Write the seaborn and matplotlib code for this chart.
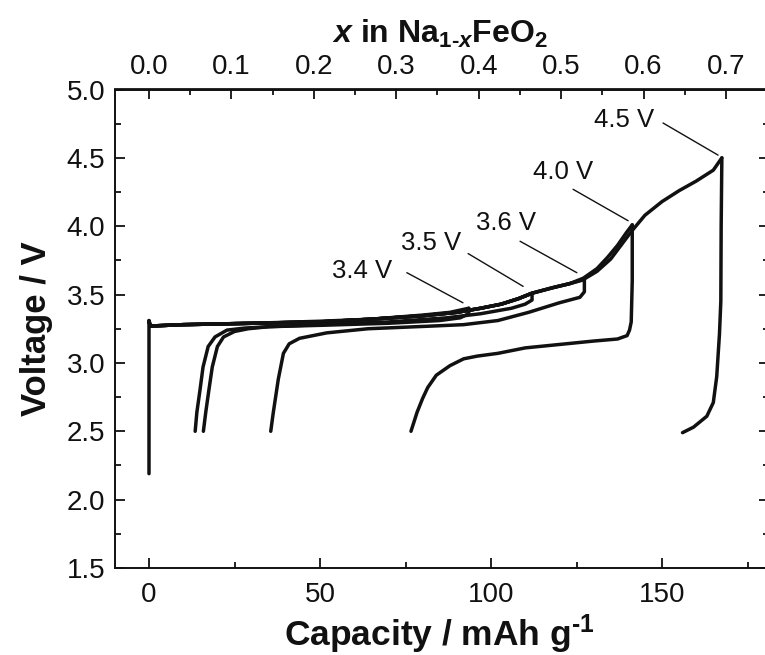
import numpy as np
import pandas as pd
import matplotlib
matplotlib.use("Agg")
import matplotlib.pyplot as plt
import seaborn as sns
from matplotlib.ticker import MultipleLocator, FixedLocator, NullFormatter

# ---------------- data ----------------
cutoffs = ["3.4 V", "3.5 V", "3.6 V", "4.0 V", "4.5 V"]

# charge branches (capacity / mAh g-1, voltage / V)
chg_cap_34 = [0, 0.4, 10, 30, 50, 65, 80, 88, 93.5]
chg_v_34 = [3.31, 3.27, 3.28, 3.29, 3.305, 3.32, 3.35, 3.37, 3.40]
chg_cap_35 = [0, 0.4, 10, 30, 50, 65, 80, 90, 97, 103, 108, 112]
chg_v_35 = [3.30, 3.27, 3.28, 3.29, 3.30, 3.32, 3.345, 3.37, 3.40, 3.43, 3.47, 3.51]
chg_cap_36 = [0, 0.4, 10, 30, 50, 65, 80, 90, 97, 103, 108, 112, 118, 123, 127.3]
chg_v_36 = [3.30, 3.27, 3.28, 3.29, 3.30, 3.32, 3.345, 3.37, 3.40, 3.43, 3.47, 3.51, 3.55, 3.58, 3.61]
chg_cap_40 = [0, 0.4, 10, 30, 50, 65, 80, 90, 97, 103, 108, 112, 118, 123, 127, 131, 134, 137, 139.5, 141.3]
chg_v_40 = [3.30, 3.27, 3.28, 3.29, 3.30, 3.32, 3.345, 3.37, 3.40, 3.43, 3.47, 3.51, 3.55, 3.58, 3.62, 3.69, 3.77, 3.86, 3.95, 4.01]
chg_cap_45 = [0, 0, 0.4, 10, 30, 50, 65, 80, 90, 97, 103, 108, 112, 118, 123, 127, 131, 135, 138, 141,
              145, 150, 155, 160, 165, 167.5]
chg_v_45 = [2.19, 3.31, 3.27, 3.28, 3.29, 3.30, 3.32, 3.345, 3.37, 3.40, 3.43, 3.47, 3.51, 3.55, 3.58,
            3.61, 3.67, 3.76, 3.86, 3.96, 4.08, 4.18, 4.26, 4.33, 4.41, 4.50]

# discharge branches
dis_cap_34 = [93.5, 93.5, 91, 85, 70, 50, 35, 28, 22.8, 19.3, 17.3, 15.8, 14.9, 14.0, 13.5]
dis_v_34 = [3.40, 3.36, 3.33, 3.31, 3.29, 3.275, 3.265, 3.255, 3.24, 3.19, 3.12, 2.97, 2.80, 2.64, 2.50]
dis_cap_35 = [112, 112, 110, 106, 97, 87, 70, 50, 35, 29, 25, 21.8, 20.0, 18.5, 17.5, 16.6, 15.9]
dis_v_35 = [3.51, 3.46, 3.43, 3.40, 3.36, 3.33, 3.30, 3.28, 3.265, 3.25, 3.23, 3.19, 3.12, 2.97, 2.80, 2.64, 2.50]
dis_cap_36 = [127.3, 127.3, 126, 120, 111, 102, 92, 83, 64, 52, 44, 41, 39.3, 37.8, 36.3, 35.6]
dis_v_36 = [3.61, 3.52, 3.48, 3.44, 3.37, 3.31, 3.28, 3.27, 3.25, 3.22, 3.18, 3.14, 3.07, 2.88, 2.63, 2.50]
dis_cap_40 = [141.3, 141.3, 141.0, 140.5, 139.8, 137, 130, 120, 110, 102, 96, 92, 88, 84, 81.5, 80, 78.4, 76.6]
dis_v_40 = [4.01, 3.60, 3.30, 3.24, 3.20, 3.175, 3.16, 3.135, 3.11, 3.07, 3.05, 3.03, 2.98, 2.91, 2.82, 2.74, 2.64, 2.50]
dis_cap_45 = [167.5, 167.3, 167.2, 166.8, 166.0, 165.0, 163.1, 159.2, 156.0]
dis_v_45 = [4.50, 4.00, 3.45, 3.21, 2.90, 2.71, 2.61, 2.53, 2.49]

# annotation labels: text centre, leader line start, leader line end (data units)
label_text_pos = [(62.3, 3.67), (82.5, 3.88), (104.4, 4.02), (121.1, 4.40), (138.9, 4.78)]
label_line_from = [(75.4, 3.66), (93.3, 3.80), (108.5, 3.89), (124.0, 4.27), (150.3, 4.755)]
label_line_to = [(91.8, 3.44), (109.4, 3.56), (125.1, 3.66), (140.1, 4.04), (166.4, 4.52)]

x_ticks = [0, 50, 100, 150]
y_ticks = [1.5, 2.0, 2.5, 3.0, 3.5, 4.0, 4.5, 5.0]
top_ticks = [0.0, 0.1, 0.2, 0.3, 0.4, 0.5, 0.6, 0.7]
theoretical_capacity = 241.0  # mAh g-1 per x in Na1-xFeO2

# ---------------- build a long table ----------------
branches = [
    ("3.4 V", "charge", chg_cap_34, chg_v_34), ("3.4 V", "discharge", dis_cap_34, dis_v_34),
    ("3.5 V", "charge", chg_cap_35, chg_v_35), ("3.5 V", "discharge", dis_cap_35, dis_v_35),
    ("3.6 V", "charge", chg_cap_36, chg_v_36), ("3.6 V", "discharge", dis_cap_36, dis_v_36),
    ("4.0 V", "charge", chg_cap_40, chg_v_40), ("4.0 V", "discharge", dis_cap_40, dis_v_40),
    ("4.5 V", "charge", chg_cap_45, chg_v_45), ("4.5 V", "discharge", dis_cap_45, dis_v_45),
]
rows = []
for cut, kind, caps, vs in branches:
    for i, (c, v) in enumerate(zip(caps, vs)):
        rows.append({"seg": f"{cut} {kind}", "order": i, "cap": c, "V": v})
df = pd.DataFrame(rows)

# ---------------- style ----------------
sns.set_theme(style="ticks")
plt.rcParams["font.family"] = ["Liberation Sans", "DejaVu Sans"]
plt.rcParams["mathtext.fontset"] = "custom"
plt.rcParams["mathtext.rm"] = "Liberation Sans:bold"
plt.rcParams["mathtext.bf"] = "Liberation Sans:bold"
plt.rcParams["mathtext.it"] = "Liberation Sans:italic:bold"

fig = plt.figure(figsize=(7.65, 6.55), dpi=100)
L, R, T, B = 114.8, 764.6, 89.5, 568.0
ax = fig.add_axes([L / 765, 1 - B / 655, (R - L) / 765, (B - T) / 655])

sns.lineplot(data=df, x="cap", y="V", units="seg", estimator=None, sort=False,
             color="#111111", linewidth=2.5, ax=ax, legend=False)

ax.set_xlim(-10, 180)
ax.set_ylim(1.5, 5.0)

# bottom / left ticks
ax.xaxis.set_major_locator(FixedLocator(x_ticks))
ax.xaxis.set_minor_locator(MultipleLocator(25))
ax.yaxis.set_major_locator(FixedLocator(y_ticks))
ax.yaxis.set_minor_locator(MultipleLocator(0.25))
ax.set_xticklabels([str(t) for t in x_ticks])
ax.set_yticklabels([f"{t:.1f}" for t in y_ticks])
ax.tick_params(which="major", direction="in", length=7.5, width=1.3, labelsize=20, pad=7,
               color="#111111", labelcolor="#111111", top=False, right=False)
ax.tick_params(axis="x", which="major", pad=10)
ax.tick_params(which="minor", direction="in", length=4.3, width=1.3, color="#111111",
               top=False, right=False)

for s in ["left", "bottom", "top"]:
    ax.spines[s].set_linewidth(1.4)
    ax.spines[s].set_color("#111111")
ax.spines["right"].set_visible(False)

# right side ticks (short)
axr = ax.secondary_yaxis("right")
axr.yaxis.set_major_locator(FixedLocator(y_ticks))
axr.yaxis.set_minor_locator(MultipleLocator(0.25))
axr.yaxis.set_major_formatter(NullFormatter())
axr.tick_params(which="major", direction="in", length=4, width=1.3, color="#111111")
axr.tick_params(which="minor", direction="in", length=1.5, width=1.3, color="#111111")
axr.spines["right"].set_visible(False)

# top axis: x in Na1-xFeO2
axt = ax.secondary_xaxis("top", functions=(lambda c: c / theoretical_capacity,
                                          lambda x: x * theoretical_capacity))
axt.xaxis.set_major_locator(FixedLocator(top_ticks))
axt.xaxis.set_minor_locator(MultipleLocator(0.05))
axt.set_xticklabels([f"{t:.1f}" for t in top_ticks])
axt.tick_params(which="major", direction="in", length=7.5, width=1.3, labelsize=20, pad=6.5,
                color="#111111", labelcolor="#111111")
axt.tick_params(which="minor", direction="in", length=4.3, width=1.3, color="#111111")
axt.spines["top"].set_linewidth(1.4)
axt.set_xlabel(r"$\mathit{x}$ in Na$_{1\text{-}\mathit{x}}$FeO$_2$", fontsize=23,
               fontweight="bold", labelpad=8, color="#111111")

ax.set_xlabel(r"Capacity / mAh g$^{\text{-}1}$", fontsize=25.5, fontweight="bold", labelpad=3,
              color="#111111")
ax.set_ylabel("Voltage / V", fontsize=25, fontweight="bold", labelpad=10, color="#111111")

# annotations
for lab, tp, p0, p1 in zip(cutoffs, label_text_pos, label_line_from, label_line_to):
    ax.text(tp[0], tp[1], lab, ha="center", va="center", fontsize=18.5, color="#111111")
    ax.annotate("", xy=p1, xytext=p0,
                arrowprops=dict(arrowstyle="-", lw=1.0, color="#111111",
                                shrinkA=0, shrinkB=0))

fig.savefig("out.png", dpi=100)
